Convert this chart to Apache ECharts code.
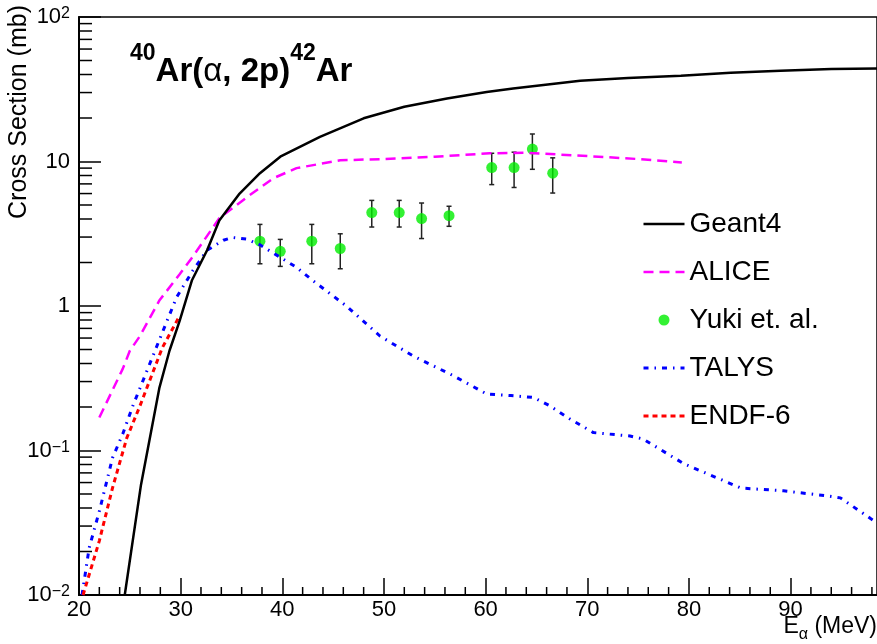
<!DOCTYPE html>
<html>
<head>
<meta charset="utf-8">
<script src="https://cdn.jsdelivr.net/npm/echarts@6/dist/echarts.min.js"></script>
<style>
  html, body { margin: 0; padding: 0; background: #fff; }
  #chart { width: 877px; height: 644px; }
</style>
</head>
<body>
<div id="chart"></div>
<script>
// values
const geantE = [24.5, 26.1, 27.9, 28.9, 29.9, 31.1, 32.6, 33.8, 35.8, 37.8, 39.8, 43.7, 48, 52, 56.2, 60.1, 62.7, 67.6, 69.3, 74, 79.2, 84.1, 89, 94, 98.5];
const geantV = [0.01, 0.058, 0.27, 0.49, 0.79, 1.5, 2.43, 3.9, 6.0, 8.3, 10.8, 14.8, 19.9, 23.9, 27.3, 30.3, 32, 35.1, 36.2, 37.8, 39.2, 41.1, 42.4, 43.6, 44.1];

const aliceE = [22, 24.3, 25, 26, 27.9, 29.9, 31.2, 33.8, 36.5, 39.1, 41.4, 45.7, 50, 55, 60.4, 64, 70, 75, 79.3];
const aliceV = [0.169, 0.367, 0.49, 0.62, 1.09, 1.66, 2.2, 4.05, 5.65, 7.65, 9.0, 10.2, 10.4, 10.8, 11.4, 11.5, 10.9, 10.4, 9.84];

const talysE = [20.3, 21, 22, 23.3, 24.3, 25.3, 27.6, 29.6, 31.2, 32.6, 34.2, 35.1, 36.5, 37.8, 39.75, 41.4, 43, 46.3, 49.6, 52.9, 56.8, 60.1, 62.5, 64.7, 66.3, 68.3, 70.6, 74.2, 75.5, 79.5, 85.1, 89.3, 93.6, 94.9, 97.9, 98.5];
const talysV = [0.01, 0.0212, 0.038, 0.089, 0.13, 0.204, 0.515, 1.15, 1.76, 2.43, 2.85, 2.98, 2.9, 2.65, 2.18, 1.85, 1.5, 1.0, 0.62, 0.45, 0.33, 0.246, 0.24, 0.233, 0.204, 0.165, 0.133, 0.126, 0.12, 0.081, 0.055, 0.0526, 0.0485, 0.047, 0.0337, 0.0316];

const endfE = [20.4, 22, 23.3, 24.7, 26, 28.2, 29.8];
const endfV = [0.01, 0.0237, 0.0552, 0.122, 0.204, 0.515, 0.83];

const yukiE = [37.8, 39.8, 42.9, 45.7, 48.8, 51.5, 53.7, 56.4, 60.6, 62.8, 64.6, 66.6];
const yukiV = [2.81, 2.39, 2.81, 2.5, 4.43, 4.43, 4.03, 4.22, 9.08, 9.08, 12.2, 8.3];
const yukiLo = [1.96, 1.88, 1.96, 1.81, 3.52, 3.52, 2.93, 3.56, 6.92, 6.61, 8.83, 6.05];
const yukiHi = [3.67, 2.89, 3.67, 3.16, 5.38, 5.38, 5.16, 4.9, 11.4, 11.6, 15.5, 10.6];

const xTicks = [20, 30, 40, 50, 60, 70, 80, 90];
const yTicks = [0.01, 0.1, 1, 10, 100];
const xMinorTicks = [22, 24, 26, 28, 32, 34, 36, 38, 42, 44, 46, 48, 52, 54, 56, 58, 62, 64, 66, 68, 72, 74, 76, 78, 82, 84, 86, 88, 92, 94, 96, 98];
const yMinorTicks = [];
[0.01, 0.1, 1, 10].forEach(function (d) {
  for (let k = 2; k <= 9; k++) yMinorTicks.push(+(k * d).toPrecision(3));
});

const FONT = 'Liberation Sans, Arial, Helvetica, sans-serif';
const X_MIN = 20, X_MAX = 98.5, Y_MIN = 0.01, Y_MAX = 100;

function zip(a, b) {
  return a.map(function (v, i) { return [v, b[i]]; });
}

// line entries in the legend: hide the marker ECharts puts on the line icon
const noMark = { color: 'transparent', borderWidth: 0, opacity: 0 };

const chart = echarts.init(document.getElementById('chart'));

const option = {
  animation: false,
  backgroundColor: '#fff',
  grid: { left: 79, top: 17, right: 0, bottom: 49, show: true, borderColor: '#000', borderWidth: 1.5 },
  legend: {
    orient: 'vertical',
    left: 637,
    top: 205,
    itemWidth: 41,
    itemHeight: 11,
    itemGap: 20,
    data: [
      { name: 'Geant4', itemStyle: noMark },
      { name: 'ALICE', itemStyle: noMark },
      { name: 'Yuki et. al.' },
      { name: 'TALYS', itemStyle: noMark },
      { name: 'ENDF-6', itemStyle: noMark }
    ],
    lineStyle: { width: 'inherit', type: 'inherit' },
    textStyle: { color: '#000', fontSize: 28, fontFamily: FONT, lineHeight: 28 },
    selectedMode: false
  },
  xAxis: {
    type: 'value',
    min: X_MIN,
    max: X_MAX,
    interval: 10,
    axisLine: { onZero: false, lineStyle: { color: '#000', width: 2 } },
    axisTick: { inside: true, length: 17, customValues: xTicks, lineStyle: { color: '#000', width: 1.5 } },
    axisLabel: { customValues: xTicks, color: '#000', fontSize: 22, fontFamily: FONT, margin: 4 },
    splitLine: { show: false }
  },
  yAxis: {
    type: 'log',
    logBase: 10,
    min: Y_MIN,
    max: Y_MAX,
    axisLine: { onZero: false, lineStyle: { color: '#000', width: 2 } },
    axisTick: { inside: true, length: 22, customValues: yTicks, lineStyle: { color: '#000', width: 1.5 } },
    axisLabel: {
      customValues: yTicks,
      margin: 9,
      formatter: function (v) {
        const e = Math.round(Math.log10(v));
        if (e === 0) return '{b|1}';
        if (e === 1) return '{b|10}';
        return '{b|10}{s|' + (e < 0 ? '\u2212' + (-e) : e) + '}';
      },
      rich: {
        b: { fontSize: 22, fontFamily: FONT, color: '#000', lineHeight: 22, verticalAlign: 'middle' },
        s: { fontSize: 16, fontFamily: FONT, color: '#000', lineHeight: 16, verticalAlign: 'top' }
      }
    },
    splitLine: { show: false }
  },
  graphic: [
    {
      type: 'text',
      x: 130, y: 42,
      style: {
        text: '{s|40}{b|Ar(}{g|\u03b1}{b|, 2p)}{s|42}{b|Ar}',
        rich: {
          s: { fontSize: 23, fontWeight: 'bold', fontFamily: FONT, fill: '#000', lineHeight: 22, verticalAlign: 'top' },
          b: { fontSize: 33, fontWeight: 'bold', fontFamily: FONT, fill: '#000', lineHeight: 46, verticalAlign: 'bottom' },
          g: { fontSize: 33, fontFamily: FONT, fill: '#000', lineHeight: 46, verticalAlign: 'bottom' }
        }
      }
    },
    {
      type: 'text',
      x: 19, y: 5,
      rotation: Math.PI / 2,
      style: { text: 'Cross Section (mb)', fontSize: 25, fontFamily: FONT, fill: '#000', align: 'right', verticalAlign: 'middle' }
    },
    {
      type: 'text',
      x: 877, y: 615,
      style: {
        text: '{a|E}{s|\u03b1}{a| (MeV)}',
        align: 'right',
        rich: {
          a: { fontSize: 23, fontFamily: FONT, fill: '#000', lineHeight: 28, verticalAlign: 'top' },
          s: { fontSize: 16, fontFamily: FONT, fill: '#000', lineHeight: 28, verticalAlign: 'bottom' }
        }
      }
    }
  ],
  series: [
    {
      name: 'ALICE',
      type: 'line',
      data: zip(aliceE, aliceV),
      symbol: 'none',
      color: '#ff00ff',
      lineStyle: { color: '#ff00ff', width: 2.5, type: [10, 6] }
    },
    {
      name: 'TALYS',
      type: 'line',
      data: zip(talysE, talysV),
      symbol: 'none',
      color: '#0000ff',
      lineStyle: { color: '#0000ff', width: 3, type: [5, 6, 1.5, 6] }
    },
    {
      name: 'ENDF-6',
      type: 'line',
      data: zip(endfE, endfV),
      symbol: 'none',
      color: '#ff0000',
      lineStyle: { color: '#ff0000', width: 3, type: [5, 4] }
    },
    {
      name: 'Geant4',
      type: 'line',
      data: zip(geantE, geantV),
      symbol: 'none',
      color: '#000',
      lineStyle: { color: '#000', width: 2.5, type: 'solid' }
    },
    {
      name: 'errors',
      type: 'custom',
      silent: true,
      data: yukiE.map(function (e, i) { return [e, yukiLo[i], yukiHi[i]]; }),
      encode: { x: 0, y: [1, 2] },
      renderItem: function (params, api) {
        const lo = api.coord([api.value(0), api.value(1)]);
        const hi = api.coord([api.value(0), api.value(2)]);
        const st = { stroke: '#222', lineWidth: 1.5 };
        return {
          type: 'group',
          children: [
            { type: 'line', shape: { x1: lo[0], y1: lo[1], x2: hi[0], y2: hi[1] }, style: st },
            { type: 'line', shape: { x1: lo[0] - 2.5, y1: lo[1], x2: lo[0] + 2.5, y2: lo[1] }, style: st },
            { type: 'line', shape: { x1: hi[0] - 2.5, y1: hi[1], x2: hi[0] + 2.5, y2: hi[1] }, style: st }
          ]
        };
      }
    },
    {
      name: 'Yuki et. al.',
      type: 'scatter',
      data: zip(yukiE, yukiV),
      symbol: 'circle',
      symbolSize: 11,
      color: '#00ee00',
      itemStyle: { color: '#00ee00' }
    },
    {
      // minor ticks of the log axis (2..9 of every decade)
      name: 'yminor',
      type: 'custom',
      silent: true,
      clip: false,
      data: yMinorTicks.map(function (v) { return [X_MIN, v]; }),
      renderItem: function (params, api) {
        const p = api.coord([api.value(0), api.value(1)]);
        return { type: 'line', shape: { x1: p[0], y1: p[1], x2: p[0] + 13, y2: p[1] }, style: { stroke: '#000', lineWidth: 1.5 } };
      }
    },
    {
      name: 'xminor',
      type: 'custom',
      silent: true,
      clip: false,
      data: xMinorTicks.map(function (v) { return [v, Y_MIN]; }),
      renderItem: function (params, api) {
        const p = api.coord([api.value(0), api.value(1)]);
        return { type: 'line', shape: { x1: p[0], y1: p[1], x2: p[0], y2: p[1] - 8 }, style: { stroke: '#000', lineWidth: 1.5 } };
      }
    }
  ]
};

chart.setOption(option);
</script>
</body>
</html>
